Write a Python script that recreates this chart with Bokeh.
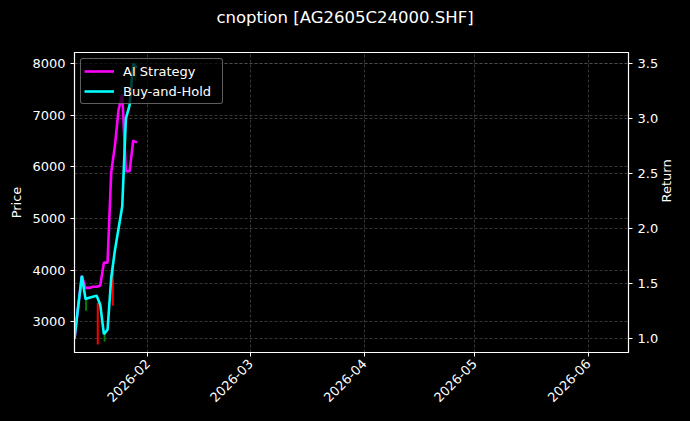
import pandas as pd
from bokeh.plotting import figure
from bokeh.layouts import column
from bokeh.models import (Range1d, LinearAxis, FixedTicker, DatetimeTickFormatter,
                          NumeralTickFormatter, Grid, ColumnDataSource, Div)
from bokeh.embed import file_html
from bokeh.resources import INLINE
from math import pi

# daily series
dates = ["2026-01-12", "2026-01-13", "2026-01-14", "2026-01-15", "2026-01-16",
         "2026-01-17", "2026-01-18", "2026-01-19", "2026-01-20", "2026-01-21",
         "2026-01-22", "2026-01-23", "2026-01-24", "2026-01-25", "2026-01-26",
         "2026-01-27", "2026-01-28", "2026-01-29"]
ai_strategy = [1.00, 1.29, 1.57, 1.46, 1.46, 1.47, 1.47, 1.48, 1.69, 1.69,
               2.51, 2.75, 3.08, 3.22, 2.52, 2.52, 2.80, 2.78]
buy_hold = [1.00, 1.29, 1.57, 1.36, 1.37, 1.38, 1.39, 1.31, 1.04, 1.08,
            1.55, 1.80, 2.00, 2.20, 3.00, 3.12, 3.50, 3.46]

# visible candle wicks (price)
candle_dates = ["2026-01-15 04:00", "2026-01-18 08:00", "2026-01-20 05:00",
                "2026-01-22 10:00", "2026-01-28 14:00"]
candle_low = [3213, 2560, 2620, 3310, 7664]
candle_high = [3445, 3368, 2787, 4084, 7955]
candle_color = ["green", "red", "green", "red", "green"]

month_ticks = ["2026-02-01", "2026-03-01", "2026-04-01", "2026-05-01", "2026-06-01"]
price_ticks = [3000, 4000, 5000, 6000, 7000, 8000]
return_ticks = [1.0, 1.5, 2.0, 2.5, 3.0, 3.5]

FONT = "DejaVu Sans"

x = pd.to_datetime(dates)
cx = pd.to_datetime(candle_dates)

# title as a separate strip so it sits where the original puts it
title = Div(text="cnoption [AG2605C24000.SHF]", width=690, height=37, margin=0,
            styles={"text-align": "center", "color": "white", "font-family": FONT,
                    "font-size": "16.5px", "line-height": "36px",
                    "background-color": "black", "width": "690px"})

p = figure(width=690, height=384, x_axis_type="datetime",
           x_range=Range1d(pd.Timestamp("2026-01-12"), pd.Timestamp("2026-06-11 22:00")),
           y_range=Range1d(2406, 8213),
           toolbar_location=None, output_backend="svg",
           min_border_left=74, min_border_right=62, min_border_top=15, min_border_bottom=69)
p.extra_y_ranges = {"ret": Range1d(0.873, 3.6)}

p.background_fill_color = "black"
p.border_fill_color = "black"
p.outline_line_color = "white"
p.outline_line_width = 1.2

# grids
month_ms = [pd.Timestamp(t).value // 10**6 for t in month_ticks]
p.xgrid.ticker = FixedTicker(ticks=month_ms)
p.ygrid.ticker = FixedTicker(ticks=price_ticks)
for g in [p.xgrid[0], p.ygrid[0]]:
    g.grid_line_color = "#5a5a5a"
    g.grid_line_dash = "3 2"
    g.grid_line_width = 0.6
rgrid = Grid(dimension=1, ticker=FixedTicker(ticks=return_ticks), y_range_name="ret",
             grid_line_color="#5a5a5a", grid_line_dash="3 2", grid_line_width=0.6)
p.add_layout(rgrid)

# candles
src = ColumnDataSource(data={"x": cx, "low": candle_low, "high": candle_high, "color": candle_color})
p.segment(x0="x", y0="low", x1="x", y1="high", color="color", line_width=2, source=src)

p.line(x, ai_strategy, color="magenta", line_width=2.6, y_range_name="ret", legend_label="AI Strategy")
p.line(x, buy_hold, color="cyan", line_width=2.6, y_range_name="ret", legend_label="Buy-and-Hold")

# axes
raxis = LinearAxis(y_range_name="ret", axis_label="Return")
raxis.ticker = FixedTicker(ticks=return_ticks)
raxis.formatter = NumeralTickFormatter(format="0.0")
try:
    raxis.axis_label_orientation = pi / 2
except AttributeError:
    pass
p.add_layout(raxis, "right")

p.xaxis.ticker = FixedTicker(ticks=month_ms)
p.xaxis.formatter = DatetimeTickFormatter(years="%Y-%m", months="%Y-%m", days="%Y-%m",
                                          hours="%Y-%m", hourmin="%Y-%m")
p.xaxis.major_label_orientation = pi / 4
p.yaxis[0].ticker = FixedTicker(ticks=price_ticks)
p.yaxis[0].axis_label = "Price"

for ax in p.axis:
    ax.axis_line_color = "white"
    ax.major_tick_line_color = "white"
    ax.minor_tick_line_color = None
    ax.major_tick_out = 4
    ax.major_tick_in = 0
    ax.major_label_text_color = "white"
    ax.major_label_text_font = FONT
    ax.major_label_text_font_size = "13px"
    ax.axis_label_text_color = "white"
    ax.axis_label_text_font = FONT
    ax.axis_label_text_font_size = "13px"
    ax.axis_label_text_font_style = "normal"

p.legend.location = "top_left"
p.legend.background_fill_color = "black"
p.legend.background_fill_alpha = 0.75
p.legend.border_line_color = "#bbbbbb"
p.legend.border_line_width = 1
p.legend.border_radius = 3
p.legend.label_text_color = "white"
p.legend.label_text_font = FONT
p.legend.label_text_font_size = "13px"
p.legend.glyph_width = 30
p.legend.glyph_height = 18
p.legend.label_width = 96
p.legend.label_standoff = 9
p.legend.margin = 6
p.legend.padding = 3
p.legend.spacing = 2

layout = column(title, p, spacing=0, styles={"background-color": "black"})
open("out.html", "w").write(file_html(layout, INLINE))
